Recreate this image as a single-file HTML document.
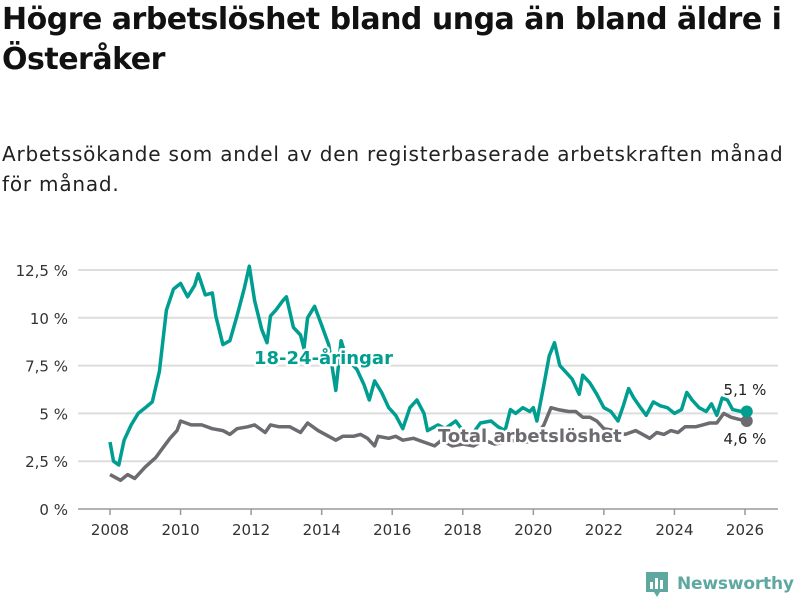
<!DOCTYPE html>
<html><head><meta charset="utf-8">
<style>
body{margin:0;background:#fff;font-family:"Liberation Sans","DejaVu Sans",sans-serif;}
#wrap{position:relative;width:800px;height:600px;overflow:hidden;}
h1{position:absolute;left:2px;top:0;margin:0;font:bold 30px/40px "DejaVu Sans",sans-serif;color:#111;letter-spacing:-0.5px;width:798px;}
.sub{position:absolute;left:2px;top:139px;margin:0;font:20px/30px "DejaVu Sans",sans-serif;letter-spacing:0.8px;color:#222;width:795px;}
svg{position:absolute;left:0;top:0;}
</style></head><body>
<div id="wrap">
<h1>Högre arbetslöshet bland unga än bland äldre i Österåker</h1>
<p class="sub">Arbetssökande som andel av den registerbaserade arbetskraften månad för månad.</p>
<svg id="chart" width="800" height="600"></svg>
</div>
<script>
const yTicks=[0,2.5,5,7.5,10,12.5];
const yTickLabels=["0 %","2,5 %","5 %","7,5 %","10 %","12,5 %"];
const xTicks=[2008,2010,2012,2014,2016,2018,2020,2022,2024,2026];
const youthT=[2008.0,2008.1,2008.25,2008.4,2008.6,2008.8,2009.0,2009.2,2009.4,2009.6,2009.8,2010.0,2010.2,2010.4,2010.5,2010.7,2010.9,2011.0,2011.2,2011.4,2011.6,2011.8,2011.95,2012.1,2012.3,2012.45,2012.55,2012.7,2012.9,2013.0,2013.2,2013.4,2013.5,2013.6,2013.8,2014.0,2014.2,2014.4,2014.55,2014.7,2015.0,2015.2,2015.35,2015.5,2015.7,2015.9,2016.1,2016.3,2016.5,2016.7,2016.9,2017.0,2017.3,2017.5,2017.8,2018.0,2018.3,2018.5,2018.8,2019.0,2019.2,2019.35,2019.5,2019.7,2019.9,2020.0,2020.1,2020.3,2020.45,2020.6,2020.75,2020.9,2021.1,2021.3,2021.4,2021.6,2021.8,2022.0,2022.2,2022.4,2022.55,2022.7,2022.85,2023.0,2023.2,2023.4,2023.6,2023.8,2024.0,2024.2,2024.35,2024.5,2024.7,2024.9,2025.05,2025.2,2025.35,2025.5,2025.65,2025.9,2026.05];
const youthV=[3.5,2.5,2.3,3.6,4.4,5.0,5.3,5.6,7.2,10.4,11.5,11.8,11.1,11.7,12.3,11.2,11.3,10.1,8.6,8.8,10.1,11.5,12.7,10.9,9.4,8.7,10.1,10.4,10.9,11.1,9.5,9.1,8.4,10.0,10.6,9.6,8.6,6.2,8.8,7.9,7.3,6.5,5.7,6.7,6.1,5.3,4.9,4.2,5.3,5.7,5.0,4.1,4.4,4.2,4.6,4.1,4.0,4.5,4.6,4.3,4.1,5.2,5.0,5.3,5.1,5.3,4.6,6.5,8.0,8.7,7.5,7.2,6.8,6.0,7.0,6.6,6.0,5.3,5.1,4.6,5.4,6.3,5.8,5.4,4.9,5.6,5.4,5.3,5.0,5.2,6.1,5.7,5.3,5.1,5.5,4.9,5.8,5.7,5.2,5.1,5.1];
const totalT=[2008.0,2008.3,2008.5,2008.7,2009.0,2009.3,2009.5,2009.7,2009.9,2010.0,2010.3,2010.6,2010.9,2011.2,2011.4,2011.6,2011.9,2012.1,2012.4,2012.55,2012.8,2013.1,2013.4,2013.6,2013.9,2014.2,2014.4,2014.6,2014.9,2015.1,2015.3,2015.5,2015.6,2015.9,2016.1,2016.3,2016.6,2016.9,2017.2,2017.4,2017.7,2018.0,2018.3,2018.6,2018.9,2019.2,2019.5,2019.8,2020.0,2020.3,2020.5,2020.7,2021.0,2021.2,2021.4,2021.6,2021.8,2022.0,2022.3,2022.6,2022.9,2023.1,2023.3,2023.5,2023.7,2023.9,2024.1,2024.3,2024.6,2024.8,2025.0,2025.2,2025.4,2025.6,2025.8,2026.05];
const totalV=[1.8,1.5,1.8,1.6,2.2,2.7,3.2,3.7,4.1,4.6,4.4,4.4,4.2,4.1,3.9,4.2,4.3,4.4,4.0,4.4,4.3,4.3,4.0,4.5,4.1,3.8,3.6,3.8,3.8,3.9,3.7,3.3,3.8,3.7,3.8,3.6,3.7,3.5,3.3,3.6,3.3,3.4,3.3,3.6,3.4,3.5,3.6,3.5,3.6,4.4,5.3,5.2,5.1,5.1,4.8,4.8,4.6,4.2,4.1,3.9,4.1,3.9,3.7,4.0,3.9,4.1,4.0,4.3,4.3,4.4,4.5,4.5,5.0,4.8,4.7,4.6];
const NS="http://www.w3.org/2000/svg";
const svg=document.getElementById('chart');
const x=t=>110+(t-2008)*(635/18);
const y=v=>509-v*(239/12.5);
function mk(tag,attrs,parent){const e=document.createElementNS(NS,tag);for(const k in attrs)e.setAttribute(k,attrs[k]);(parent||svg).appendChild(e);return e;}
yTicks.forEach((v,i)=>{
 const g=mk('line',{x1:78,x2:778,y1:y(v),y2:y(v),stroke:v===0?'#999':'#ddd','stroke-width':v===0?1.5:2});
 
 
 const t=mk('text',{x:68,y:y(v)+6,'text-anchor':'end','font-size':15,fill:'#333','font-family':'DejaVu Sans,sans-serif'});
 t.textContent=yTickLabels[i];
 
 
});
xTicks.forEach(v=>{
 const l=mk('line',{x1:x(v),x2:x(v),y1:509,y2:515,stroke:'#999','stroke-width':1.5});
 
 
 const t=mk('text',{x:x(v),y:535,'text-anchor':'middle','font-size':15,fill:'#333','font-family':'DejaVu Sans,sans-serif'});
 t.textContent=v;
 
 
});
function line(T,V,color,name){
 const d=T.map((t,i)=>(i?'L':'M')+x(t).toFixed(1)+','+y(V[i]).toFixed(1)).join('');
 const p=mk('path',{d:d,fill:'none',stroke:color,'stroke-width':3.5,'stroke-linejoin':'round'});
 
 
 const n=T.length-1;
 const c=mk('circle',{cx:x(T[n]),cy:y(V[n]),r:6,fill:color});
 
 
}
line(totalT,totalV,'#6d6b70','total-line');
line(youthT,youthV,'#009e91','youth-line');
function label(txt,xx,yy,color,name,bold,size,anchor){
 const t=mk('text',{x:xx,y:yy,'font-size':size,'font-weight':bold?'bold':'normal',fill:color,stroke:'#fff','stroke-width':bold?5:4,'paint-order':'stroke','stroke-linejoin':'round','font-family':'DejaVu Sans,sans-serif','text-anchor':anchor||'start'});
 t.textContent=txt;
 
 
}
label('18-24-åringar',254,364,'#009e91','youth-series-label',true,18);
label('Total arbetslöshet',438,442,'#6d6b70','total-series-label',true,18);
label('5,1 %',745,395,'#222','youth-end-value',false,15,'middle');
label('4,6 %',745,444,'#222','total-end-value',false,15,'middle');
const lg=mk('g',{});


mk('path',{d:'M646,572 h22 v20 h-8 l-3,5 l-3,-5 h-8 z',fill:'#5fa8a0'},lg);
mk('rect',{x:650,y:582,width:3,height:7,fill:'#fff'},lg);
mk('rect',{x:655,y:578,width:3,height:11,fill:'#fff'},lg);
mk('rect',{x:660,y:580,width:3,height:9,fill:'#fff'},lg);
const lt=mk('text',{x:677,y:589,'font-size':17,'font-weight':'bold',fill:'#5fa8a0','font-family':'DejaVu Sans,sans-serif',textLength:117},lg);
lt.textContent='Newsworthy';
</script>
</body></html>
